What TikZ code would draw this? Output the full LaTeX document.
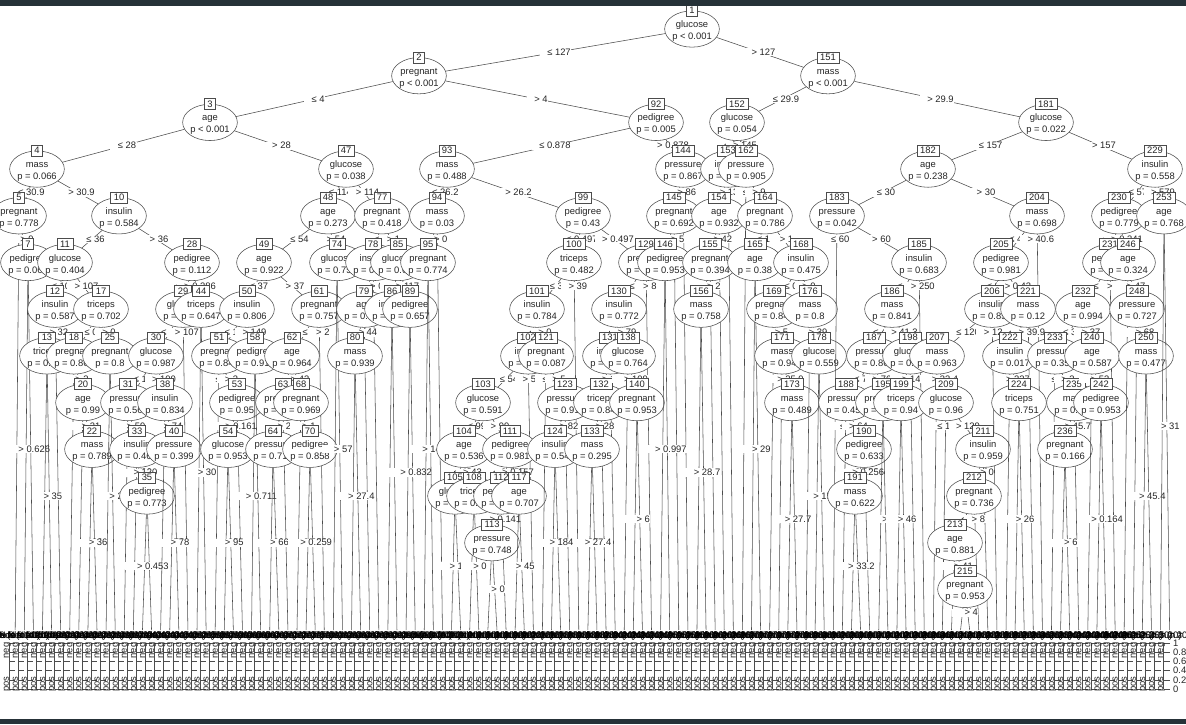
\documentclass[tikz,border=0pt]{standalone}
\usepackage{fontspec}
\setmainfont{Liberation Sans}
\usetikzlibrary{shapes.geometric, calc}
\definecolor{barcolor}{HTML}{263238}
\tikzset{
	edgeline/.style={draw=black!70, line width=0.55pt},
	edgelabel/.style={fill=white, inner xsep=0.5pt, inner ysep=0.8pt, text=black!85},
	splitbox/.style={ellipse, draw=black!70, line width=0.55pt, fill=white, minimum width=54.7pt, minimum height=36.3pt, inner sep=0pt, text=black!85},
	idbox/.style={draw=black!70, line width=0.55pt, fill=white, inner xsep=3pt, inner ysep=0pt, minimum height=11pt, text=black!85},
	leaftitle/.style={inner sep=0pt, text=black},
	barlabel/.style={inner sep=0pt, rotate=90, text=black!85},
	ticklabel/.style={inner sep=0pt, anchor=west, text=black!85}
}
\newcounter{leafno}
\newif\ifdrawpass
\newcommand{\splittext}[2]{\smash{\makebox[0pt]{\raisebox{-4.4pt}{\begin{tabular}{@{}c@{}}#1\\#2\end{tabular}}}}}
% id, x, row, variable, p value
\newcommand{\splitnode}[5]{
	\ifdrawpass
		\node[splitbox] (n#1) at (t#1) {\splittext{#4}{#5}};
		\node[idbox] (b#1) at (n#1.north) {#1};
	\else
		\coordinate (t#1) at (#2, {29+46.7*(#3-1)});
	\fi
}
% id
\newcommand{\leafnode}[1]{
	\stepcounter{leafno}
	\pgfmathsetmacro{\leafx}{15.2+9.09*(\value{leafno}-1)}
	\ifdrawpass
		\node[leaftitle] (n#1) at (\leafx-8, 636.5) {Node #1 (n = 20)};
		\draw[edgeline] (\leafx-6, 643) -- (\leafx-6, 689);
		\foreach \ticky in {643, 652.2, 661.4, 670.6, 679.8, 689}
			\draw[edgeline] (\leafx-6, \ticky) -- (\leafx, \ticky);
		\node[barlabel] (neg#1) at (\leafx-8, 650.5) {neg};
		\node[barlabel] (pos#1) at (\leafx-8, 684) {pos};
	\else
		\coordinate (t#1) at (\leafx, 630);
	\fi
}
% parent, kid, label text, height of the label under the parent
\newcommand{\edgeto}[4]{
	\pgfpointanchor{n#1}{center}\pgfgetlastxy{\parentx}{\parenty}
	\pgfpointanchor{t#2}{center}\pgfgetlastxy{\kidx}{\kidy}
	\pgfmathsetmacro{\edgefrac}{(#4)/(\parenty-\kidy)}
	\draw[edgeline] (n#1) -- (t#2);
	\node[edgelabel] (e#2) at ($(n#1.center)!\edgefrac!(t#2)$) {\hspace*{7pt}#3};
}
% parent, two kids, split value: labels half a row under the parent
\newcommand{\splitedges}[4]{
	\ifdrawpass
		\edgeto{#1}{#2}{≤ #4}{23.35}
		\edgeto{#1}{#3}{> #4}{23.35}
	\fi
}
% parent, two leaves, split value: labels half way down to the panels
\newcommand{\leafedges}[4]{
	\ifdrawpass
		\edgeto{#1}{#2}{≤ #4}{(636+\parenty)/2}
		\edgeto{#1}{#3}{> #4}{(636+\parenty)/2}
	\fi
}
% tree, in order of the node ids
\newcommand{\treelist}{
	\splitnode{1}{692}{1}{glucose}{p < 0.001}
	\splitedges{1}{2}{151}{127}
	\splitnode{2}{419}{2}{pregnant}{p < 0.001}
	\splitedges{2}{3}{92}{4}
	\splitnode{3}{210}{3}{age}{p < 0.001}
	\splitedges{3}{4}{47}{28}
	\splitnode{4}{37}{4}{mass}{p = 0.066}
	\splitedges{4}{5}{10}{30.9}
	\splitnode{5}{19}{5}{pregnant}{p = 0.778}
	\splitedges{5}{6}{7}{9}
	\leafnode{6}
	\splitnode{7}{28}{6}{pedigree}{p = 0.061}
	\leafedges{7}{8}{9}{0.626}
	\leafnode{8}
	\leafnode{9}
	\splitnode{10}{119}{5}{insulin}{p = 0.584}
	\splitedges{10}{11}{28}{36}
	\splitnode{11}{65}{6}{glucose}{p = 0.404}
	\splitedges{11}{12}{17}{107}
	\splitnode{12}{55}{7}{insulin}{p = 0.587}
	\splitedges{12}{13}{16}{32}
	\splitnode{13}{47}{8}{triceps}{p = 0.912}
	\leafedges{13}{14}{15}{35}
	\leafnode{14}
	\leafnode{15}
	\leafnode{16}
	\splitnode{17}{101}{7}{triceps}{p = 0.702}
	\splitedges{17}{18}{25}{0}
	\splitnode{18}{74}{8}{pregnant}{p = 0.861}
	\splitedges{18}{19}{20}{3}
	\leafnode{19}
	\splitnode{20}{83}{9}{age}{p = 0.99}
	\splitedges{20}{21}{22}{21}
	\leafnode{21}
	\splitnode{22}{92}{10}{mass}{p = 0.789}
	\leafedges{22}{23}{24}{36}
	\leafnode{23}
	\leafnode{24}
	\splitnode{25}{110}{8}{pregnant}{p = 0.8}
	\leafedges{25}{26}{27}{2}
	\leafnode{26}
	\leafnode{27}
	\splitnode{28}{192}{6}{pedigree}{p = 0.112}
	\splitedges{28}{29}{44}{0.286}
	\splitnode{29}{183}{7}{glucose}{p = 0.934}
	\splitedges{29}{30}{43}{107}
	\splitnode{30}{156}{8}{glucose}{p = 0.987}
	\splitedges{30}{31}{38}{100}
	\splitnode{31}{128}{9}{pressure}{p = 0.561}
	\splitedges{31}{32}{33}{59}
	\leafnode{32}
	\splitnode{33}{137}{10}{insulin}{p = 0.462}
	\splitedges{33}{34}{35}{120}
	\leafnode{34}
	\splitnode{35}{147}{11}{pedigree}{p = 0.773}
	\leafedges{35}{36}{37}{0.453}
	\leafnode{36}
	\leafnode{37}
	\splitnode{38}{165}{9}{insulin}{p = 0.834}
	\splitedges{38}{39}{40}{74}
	\leafnode{39}
	\splitnode{40}{174}{10}{pressure}{p = 0.399}
	\leafedges{40}{41}{42}{78}
	\leafnode{41}
	\leafnode{42}
	\leafnode{43}
	\splitnode{44}{201}{7}{triceps}{p = 0.647}
	\leafedges{44}{45}{46}{30}
	\leafnode{45}
	\leafnode{46}
	\splitnode{47}{346}{4}{glucose}{p = 0.038}
	\splitedges{47}{48}{77}{114}
	\splitnode{48}{328}{5}{age}{p = 0.273}
	\splitedges{48}{49}{74}{54}
	\splitnode{49}{264}{6}{age}{p = 0.922}
	\splitedges{49}{50}{61}{37}
	\splitnode{50}{247}{7}{insulin}{p = 0.806}
	\splitedges{50}{51}{58}{149}
	\splitnode{51}{219}{8}{pregnant}{p = 0.842}
	\splitedges{51}{52}{53}{3}
	\leafnode{52}
	\splitnode{53}{237}{9}{pedigree}{p = 0.95}
	\splitedges{53}{54}{57}{0.161}
	\splitnode{54}{228}{10}{glucose}{p = 0.953}
	\leafedges{54}{55}{56}{95}
	\leafnode{55}
	\leafnode{56}
	\leafnode{57}
	\splitnode{58}{255}{8}{pedigree}{p = 0.913}
	\leafedges{58}{59}{60}{0.711}
	\leafnode{59}
	\leafnode{60}
	\splitnode{61}{319}{7}{pregnant}{p = 0.757}
	\splitedges{61}{62}{73}{2}
	\splitnode{62}{292}{8}{age}{p = 0.964}
	\splitedges{62}{63}{68}{43}
	\splitnode{63}{283}{9}{pregnant}{p = 0.912}
	\splitedges{63}{64}{67}{24}
	\splitnode{64}{273}{10}{pressure}{p = 0.712}
	\leafedges{64}{65}{66}{66}
	\leafnode{65}
	\leafnode{66}
	\leafnode{67}
	\splitnode{68}{301}{9}{pregnant}{p = 0.969}
	\splitedges{68}{69}{70}{1}
	\leafnode{69}
	\splitnode{70}{310}{10}{pedigree}{p = 0.858}
	\leafedges{70}{71}{72}{0.259}
	\leafnode{71}
	\leafnode{72}
	\leafnode{73}
	\splitnode{74}{337}{6}{glucose}{p = 0.751}
	\leafedges{74}{75}{76}{57}
	\leafnode{75}
	\leafnode{76}
	\splitnode{77}{382}{5}{pregnant}{p = 0.418}
	\splitedges{77}{78}{85}{1}
	\splitnode{78}{373}{6}{insulin}{p = 0.612}
	\splitedges{78}{79}{84}{0}
	\splitnode{79}{364}{7}{age}{p = 0.533}
	\splitedges{79}{80}{83}{44}
	\splitnode{80}{355}{8}{mass}{p = 0.939}
	\leafedges{80}{81}{82}{27.4}
	\leafnode{81}
	\leafnode{82}
	\leafnode{83}
	\leafnode{84}
	\splitnode{85}{398}{6}{glucose}{p = 0.624}
	\splitedges{85}{86}{89}{117}
	\splitnode{86}{392}{7}{insulin}{p = 0.512}
	\leafedges{86}{87}{88}{0}
	\leafnode{87}
	\leafnode{88}
	\splitnode{89}{410}{7}{pedigree}{p = 0.657}
	\leafedges{89}{90}{91}{0.832}
	\leafnode{90}
	\leafnode{91}
	\splitnode{92}{656}{3}{pedigree}{p = 0.005}
	\splitedges{92}{93}{144}{0.878}
	\splitnode{93}{447}{4}{mass}{p = 0.488}
	\splitedges{93}{94}{99}{26.2}
	\splitnode{94}{437}{5}{mass}{p = 0.03}
	\splitedges{94}{95}{98}{0}
	\splitnode{95}{428}{6}{pregnant}{p = 0.774}
	\leafedges{95}{96}{97}{145}
	\leafnode{96}
	\leafnode{97}
	\leafnode{98}
	\splitnode{99}{583}{5}{pedigree}{p = 0.43}
	\splitedges{99}{100}{129}{0.497}
	\splitnode{100}{574}{6}{triceps}{p = 0.482}
	\splitedges{100}{101}{128}{39}
	\splitnode{101}{537}{7}{insulin}{p = 0.784}
	\splitedges{101}{102}{121}{0}
	\splitnode{102}{528}{8}{insulin}{p = 0.614}
	\splitedges{102}{103}{120}{54}
	\splitnode{103}{483}{9}{glucose}{p = 0.591}
	\splitedges{103}{104}{111}{99}
	\splitnode{104}{464}{10}{age}{p = 0.536}
	\splitedges{104}{105}{108}{43}
	\splitnode{105}{455}{11}{glucose}{p = 0.523}
	\leafedges{105}{106}{107}{109}
	\leafnode{106}
	\leafnode{107}
	\splitnode{108}{474}{11}{triceps}{p = 0.612}
	\leafedges{108}{109}{110}{0}
	\leafnode{109}
	\leafnode{110}
	\splitnode{111}{510}{10}{pedigree}{p = 0.981}
	\splitedges{111}{112}{117}{0.157}
	\splitnode{112}{501}{11}{pedigree}{p = 0.712}
	\splitedges{112}{113}{116}{0.141}
	\splitnode{113}{492}{12}{pressure}{p = 0.748}
	\leafedges{113}{114}{115}{0}
	\leafnode{114}
	\leafnode{115}
	\leafnode{116}
	\splitnode{117}{519}{11}{age}{p = 0.707}
	\leafedges{117}{118}{119}{45}
	\leafnode{118}
	\leafnode{119}
	\leafnode{120}
	\splitnode{121}{546}{8}{pregnant}{p = 0.087}
	\splitedges{121}{122}{123}{5}
	\leafnode{122}
	\splitnode{123}{565}{9}{pressure}{p = 0.912}
	\splitedges{123}{124}{127}{82}
	\splitnode{124}{555}{10}{insulin}{p = 0.541}
	\leafedges{124}{125}{126}{184}
	\leafnode{125}
	\leafnode{126}
	\leafnode{127}
	\leafnode{128}
	\splitnode{129}{646}{6}{pregnant}{p = 0.634}
	\splitedges{129}{130}{143}{8}
	\splitnode{130}{619}{7}{insulin}{p = 0.772}
	\splitedges{130}{131}{138}{79}
	\splitnode{131}{610}{8}{insulin}{p = 0.512}
	\splitedges{131}{132}{137}{135}
	\splitnode{132}{601}{9}{triceps}{p = 0.841}
	\splitedges{132}{133}{136}{28}
	\splitnode{133}{592}{10}{mass}{p = 0.295}
	\leafedges{133}{134}{135}{27.4}
	\leafnode{134}
	\leafnode{135}
	\leafnode{136}
	\leafnode{137}
	\splitnode{138}{628}{8}{glucose}{p = 0.764}
	\splitedges{138}{139}{140}{109}
	\leafnode{139}
	\splitnode{140}{637}{9}{pregnant}{p = 0.953}
	\leafedges{140}{141}{142}{6}
	\leafnode{141}
	\leafnode{142}
	\leafnode{143}
	\splitnode{144}{683}{4}{pressure}{p = 0.867}
	\splitedges{144}{145}{150}{86}
	\splitnode{145}{674}{5}{pregnant}{p = 0.692}
	\splitedges{145}{146}{149}{5}
	\splitnode{146}{665}{6}{pedigree}{p = 0.953}
	\leafedges{146}{147}{148}{0.997}
	\leafnode{147}
	\leafnode{148}
	\leafnode{149}
	\leafnode{150}
	\splitnode{151}{828}{2}{mass}{p < 0.001}
	\splitedges{151}{152}{181}{29.9}
	\splitnode{152}{737}{3}{glucose}{p = 0.054}
	\splitedges{152}{153}{162}{145}
	\splitnode{153}{728}{4}{insulin}{p = 0.812}
	\splitedges{153}{154}{161}{130}
	\splitnode{154}{719}{5}{age}{p = 0.932}
	\splitedges{154}{155}{160}{42}
	\splitnode{155}{710}{6}{pregnant}{p = 0.394}
	\splitedges{155}{156}{159}{2}
	\splitnode{156}{701}{7}{mass}{p = 0.758}
	\leafedges{156}{157}{158}{28.7}
	\leafnode{157}
	\leafnode{158}
	\leafnode{159}
	\leafnode{160}
	\leafnode{161}
	\splitnode{162}{746}{4}{pressure}{p = 0.905}
	\splitedges{162}{163}{164}{9}
	\leafnode{163}
	\splitnode{164}{765}{5}{pregnant}{p = 0.786}
	\splitedges{164}{165}{168}{1}
	\splitnode{165}{755}{6}{age}{p = 0.38}
	\leafedges{165}{166}{167}{29}
	\leafnode{166}
	\leafnode{167}
	\splitnode{168}{801}{6}{insulin}{p = 0.475}
	\splitedges{168}{169}{176}{0}
	\splitnode{169}{774}{7}{pregnant}{p = 0.842}
	\splitedges{169}{170}{171}{5}
	\leafnode{170}
	\splitnode{171}{782}{8}{mass}{p = 0.942}
	\splitedges{171}{172}{173}{25.9}
	\leafnode{172}
	\splitnode{173}{792}{9}{mass}{p = 0.489}
	\leafedges{173}{174}{175}{27.7}
	\leafnode{174}
	\leafnode{175}
	\splitnode{176}{810}{7}{mass}{p = 0.8}
	\splitedges{176}{177}{178}{39}
	\leafnode{177}
	\splitnode{178}{819}{8}{glucose}{p = 0.559}
	\leafedges{178}{179}{180}{150}
	\leafnode{179}
	\leafnode{180}
	\splitnode{181}{1046}{3}{glucose}{p = 0.022}
	\splitedges{181}{182}{229}{157}
	\splitnode{182}{928}{4}{age}{p = 0.238}
	\splitedges{182}{183}{204}{30}
	\splitnode{183}{837}{5}{pressure}{p = 0.042}
	\splitedges{183}{184}{185}{60}
	\leafnode{184}
	\splitnode{185}{919}{6}{insulin}{p = 0.683}
	\splitedges{185}{186}{203}{250}
	\splitnode{186}{892}{7}{mass}{p = 0.841}
	\splitedges{186}{187}{198}{41.3}
	\splitnode{187}{874}{8}{pressure}{p = 0.862}
	\splitedges{187}{188}{195}{76}
	\splitnode{188}{846}{9}{pressure}{p = 0.452}
	\splitedges{188}{189}{190}{64}
	\leafnode{189}
	\splitnode{190}{864}{10}{pedigree}{p = 0.633}
	\splitedges{190}{191}{194}{0.256}
	\splitnode{191}{855}{11}{mass}{p = 0.622}
	\leafedges{191}{192}{193}{33.2}
	\leafnode{192}
	\leafnode{193}
	\leafnode{194}
	\splitnode{195}{883}{9}{pregnant}{p = 0.712}
	\leafedges{195}{196}{197}{5}
	\leafnode{196}
	\leafnode{197}
	\splitnode{198}{910}{8}{glucose}{p = 0.812}
	\splitedges{198}{199}{202}{145}
	\splitnode{199}{901}{9}{triceps}{p = 0.94}
	\leafedges{199}{200}{201}{46}
	\leafnode{200}
	\leafnode{201}
	\leafnode{202}
	\leafnode{203}
	\splitnode{204}{1037}{5}{mass}{p = 0.698}
	\splitedges{204}{205}{228}{40.6}
	\splitnode{205}{1001}{6}{pedigree}{p = 0.981}
	\splitedges{205}{206}{221}{0.42}
	\splitnode{206}{992}{7}{insulin}{p = 0.852}
	\splitedges{206}{207}{220}{120}
	\splitnode{207}{937}{8}{mass}{p = 0.963}
	\splitedges{207}{208}{209}{33.4}
	\leafnode{208}
	\splitnode{209}{946}{9}{glucose}{p = 0.96}
	\splitedges{209}{210}{211}{129}
	\leafnode{210}
	\splitnode{211}{983}{10}{insulin}{p = 0.959}
	\splitedges{211}{212}{219}{0}
	\splitnode{212}{974}{11}{pregnant}{p = 0.736}
	\splitedges{212}{213}{218}{8}
	\splitnode{213}{955}{12}{age}{p = 0.881}
	\splitedges{213}{214}{215}{41}
	\leafnode{214}
	\splitnode{215}{965}{13}{pregnant}{p = 0.953}
	\leafedges{215}{216}{217}{4}
	\leafnode{216}
	\leafnode{217}
	\leafnode{218}
	\leafnode{219}
	\leafnode{220}
	\splitnode{221}{1028}{7}{mass}{p = 0.12}
	\splitedges{221}{222}{227}{39.9}
	\splitnode{222}{1010}{8}{insulin}{p = 0.017}
	\splitedges{222}{223}{224}{227}
	\leafnode{223}
	\splitnode{224}{1019}{9}{triceps}{p = 0.751}
	\leafedges{224}{225}{226}{26}
	\leafnode{225}
	\leafnode{226}
	\leafnode{227}
	\leafnode{228}
	\splitnode{229}{1155}{4}{insulin}{p = 0.558}
	\splitedges{229}{230}{253}{579}
	\splitnode{230}{1119}{5}{pedigree}{p = 0.779}
	\splitedges{230}{231}{246}{0.341}
	\splitnode{231}{1110}{6}{pedigree}{p = 0.642}
	\splitedges{231}{232}{245}{0}
	\splitnode{232}{1083}{7}{age}{p = 0.994}
	\splitedges{232}{233}{240}{37}
	\splitnode{233}{1055}{8}{pressure}{p = 0.352}
	\splitedges{233}{234}{235}{3}
	\leafnode{234}
	\splitnode{235}{1074}{9}{mass}{p = 0.712}
	\splitedges{235}{236}{239}{45.7}
	\splitnode{236}{1065}{10}{pregnant}{p = 0.166}
	\leafedges{236}{237}{238}{6}
	\leafnode{237}
	\leafnode{238}
	\leafnode{239}
	\splitnode{240}{1092}{8}{age}{p = 0.587}
	\splitedges{240}{241}{242}{53}
	\leafnode{241}
	\splitnode{242}{1101}{9}{pedigree}{p = 0.953}
	\leafedges{242}{243}{244}{0.164}
	\leafnode{243}
	\leafnode{244}
	\leafnode{245}
	\splitnode{246}{1128}{6}{age}{p = 0.324}
	\splitedges{246}{247}{248}{47}
	\leafnode{247}
	\splitnode{248}{1137}{7}{pressure}{p = 0.727}
	\splitedges{248}{249}{250}{68}
	\leafnode{249}
	\splitnode{250}{1146}{8}{mass}{p = 0.477}
	\leafedges{250}{251}{252}{45.4}
	\leafnode{251}
	\leafnode{252}
	\splitnode{253}{1164}{5}{age}{p = 0.768}
	\leafedges{253}{254}{255}{31}
	\leafnode{254}
	\leafnode{255}
}
\begin{document}
\begin{tikzpicture}[x=1pt, y=-1pt, every node/.append style={font=\fontsize{9.4}{12}\selectfont}]
	\useasboundingbox (0, 0) rectangle (1186, 724);
	\fill[white] (0, 0) rectangle (1186, 724);
	% first pass places the coordinates, second pass draws
	\drawpassfalse
	\treelist
	\setcounter{leafno}{0}
	\drawpasstrue
	\treelist
	% axis numbers of the last panel
	\foreach \ticky/\ticktext in {643/1, 652.2/0.8, 661.4/0.6, 670.6/0.4, 679.8/0.2, 689/0}
		\node[ticklabel] (tick\ticktext) at (1173, \ticky) {\ticktext};
	% dark bars along the top and bottom edge
	\fill[barcolor] (0, 0) rectangle (1186, 5.7);
	\fill[barcolor] (0, 718.5) rectangle (1186, 724);
\end{tikzpicture}
\end{document}
